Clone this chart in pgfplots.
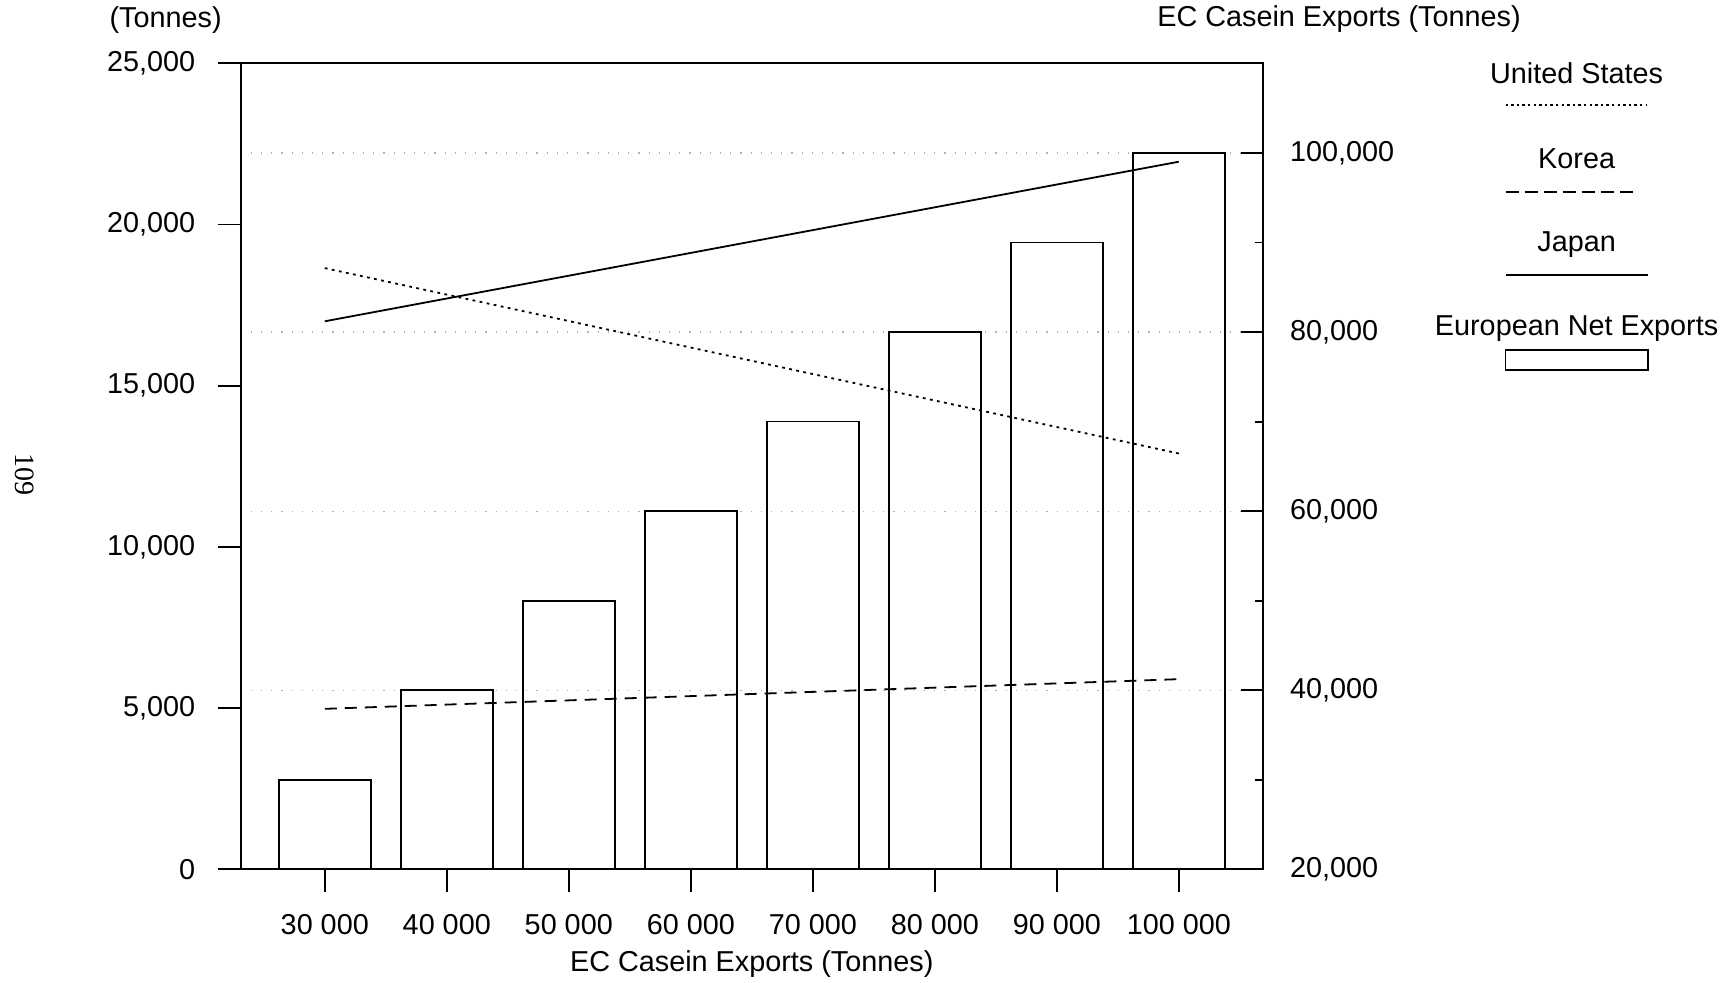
\documentclass[border=0pt]{standalone}
\usepackage{pgfplots}
\pgfplotsset{compat=1.18}
\usepackage{fontspec}
\setmainfont{Liberation Sans}
\newfontfamily\pagefont{Liberation Serif}

\begin{document}
\begin{tikzpicture}[font=\fontsize{14.4}{17}\selectfont]
\useasboundingbox (0,0) rectangle (865.5pt,491.5pt);
% ---- right axis: EC casein exports (bars) ----
\begin{axis}[
  at={(120.3pt,56.8pt)}, anchor=south west,
  scale only axis, width=511.2pt, height=403pt,
  xmin=-0.69, xmax=7.69,
  ymin=20000, ymax=110000,
  axis y line*=right,
  axis x line=none,
  ytick={20000,40000,60000,80000,100000},
  minor ytick={30000,50000,70000,90000},
  tick align=inside,
  major tick length=11pt, minor tick length=4pt,
  tick style={line width=0.9pt, black},
  axis line style={line width=1pt},
  ymajorgrids,
  major grid style={black!30, line width=0.6pt, dash pattern=on 0.6pt off 4.5pt},
  scaled y ticks=false,
  yticklabel style={xshift=10pt},
  /pgf/number format/fixed,
  /pgf/number format/1000 sep={,},
  /pgf/number format/assume math mode=true,
]
\addplot[ybar, bar width=0.753, draw=black, fill=none, line width=0.8pt]
  coordinates {(0,30000) (1,40000) (2,50000) (3,60000) (4,70000) (5,80000) (6,90000) (7,100000)};
\end{axis}
% ---- left axis: import lines ----
\begin{axis}[
  at={(120.3pt,56.8pt)}, anchor=south west,
  scale only axis, width=511.2pt, height=403pt,
  xmin=-0.69, xmax=7.69,
  ymin=0, ymax=25000,
  xtick={0,1,2,3,4,5,6,7},
  xticklabels={30 000,40 000,50 000,60 000,70 000,80 000,90 000,100 000},
  ytick={0,5000,10000,15000,20000,25000},
  xtick pos=left, ytick pos=left,
  tick align=outside,
  major tick length=11.5pt,
  tick style={line width=0.9pt, black},
  axis line style={line width=1pt},
  scaled y ticks=false,
  yticklabel style={xshift=-7.7pt},
  xticklabel style={yshift=-7.7pt},
  xlabel={EC Casein Exports (Tonnes)},
  xlabel style={at={(axis description cs:0.5,0)}, anchor=center, yshift=-47.2pt},
  /pgf/number format/fixed,
  /pgf/number format/1000 sep={,},
  /pgf/number format/assume math mode=true,
]
% United States (dotted)
\addplot[line width=0.9pt, dash pattern=on 1.4pt off 2.2pt] coordinates {(0,18650) (7,12900)};
% Korea (dashed)
\addplot[line width=0.9pt, dash pattern=on 6pt off 4pt] coordinates {(0,4980) (7,5900)};
% Japan (solid)
\addplot[line width=0.9pt] coordinates {(0,17000) (7,21950)};
\end{axis}
% ---- titles ----
\node at (82.8pt,481.5pt) {(Tonnes)};
\node at (669.5pt,482pt) {EC Casein Exports (Tonnes)};
% ---- legend ----
\node at (788.3pt,455.1pt) {United States};
\draw[line width=0.8pt, dash pattern=on 1.2pt off 1.6pt] (752.8pt,439pt) -- (823.1pt,439pt);
\node at (788.3pt,412pt) {Korea};
\draw[line width=1pt, dash pattern=on 6.5pt off 3pt] (752.8pt,395.7pt) -- (818pt,395.7pt);
\node at (788.3pt,369pt) {Japan};
\draw[line width=0.9pt] (752.8pt,354pt) -- (824pt,354pt);
\node at (788.3pt,327pt) {European Net Exports};
\draw[line width=0.8pt] (752.8pt,306.5pt) rectangle (824pt,316.5pt);
% ---- page number ----
\node[rotate=-90, font=\pagefont\fontsize{14}{16}\selectfont] at (12.1pt,254.1pt) {109};
\end{tikzpicture}
\end{document}
